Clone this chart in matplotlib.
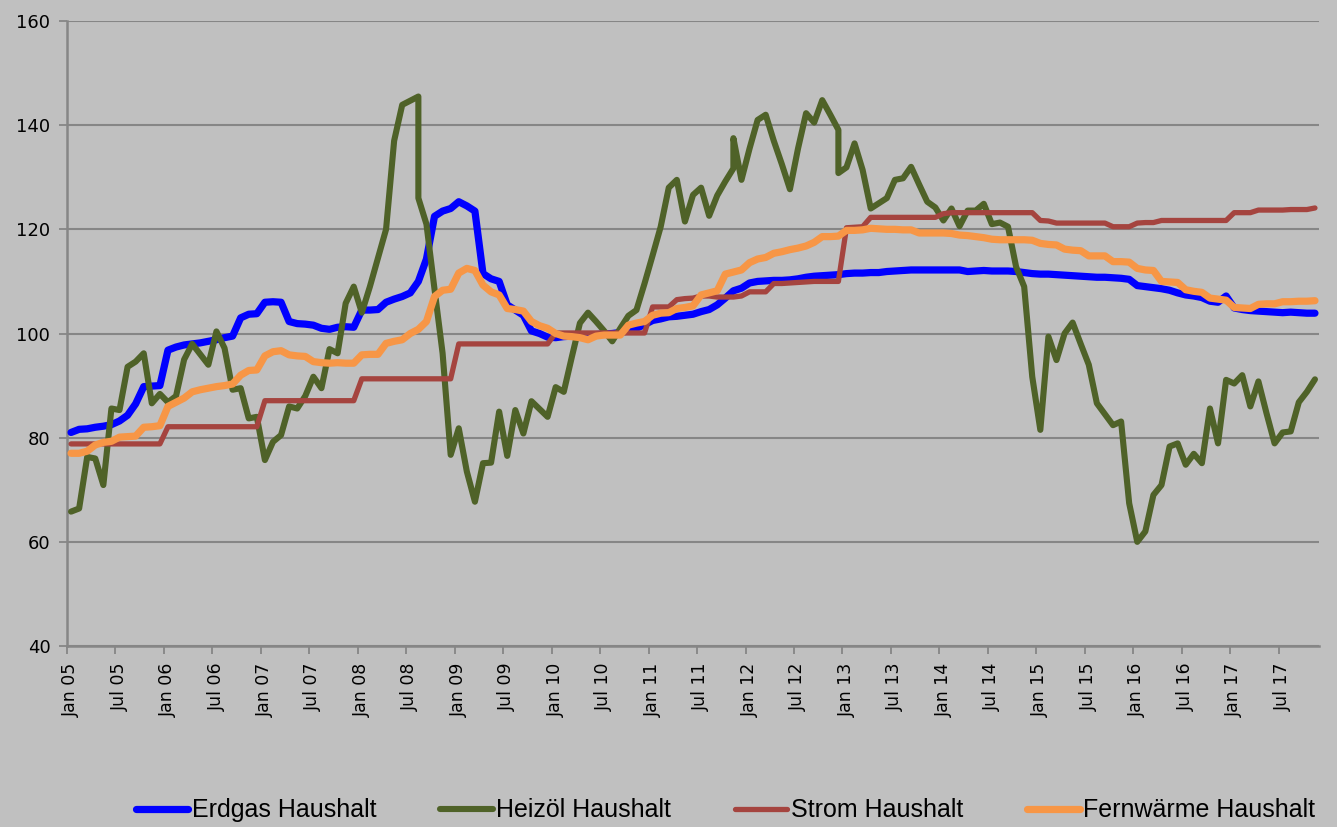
import matplotlib
matplotlib.use("Agg")
import matplotlib.pyplot as plt

# ---------------- data (monthly index, Jan 2005 = 0 ... Nov 2017 = 154) ----------------
tick_labels = ["Jan 05", "Jul 05", "Jan 06", "Jul 06", "Jan 07", "Jul 07", "Jan 08", "Jul 08",
               "Jan 09", "Jul 09", "Jan 10", "Jul 10", "Jan 11", "Jul 11", "Jan 12", "Jul 12",
               "Jan 13", "Jul 13", "Jan 14", "Jul 14", "Jan 15", "Jul 15", "Jan 16", "Jul 16",
               "Jan 17", "Jul 17"]
tick_months = [0, 6, 12, 18, 24, 30, 36, 42, 48, 54, 60, 66, 72, 78, 84, 90, 96, 102,
               108, 114, 120, 126, 132, 138, 144, 150]

erdgas = [
    81.0, 81.6, 81.7, 82.0, 82.2, 82.5, 83.2, 84.3, 86.5, 89.8, 89.9, 90.0,
    96.8, 97.4, 97.8, 98.0, 98.2, 98.5, 98.8, 99.2, 99.5, 103.0, 103.7, 103.8,
    106.0, 106.1, 106.0, 102.3, 101.9, 101.8, 101.6, 101.0, 100.8, 101.2, 101.3, 101.2,
    104.5, 104.5, 104.6, 106.0, 106.6, 107.1, 107.8, 110.0, 114.3, 122.5, 123.5, 124.0,
    125.3, 124.5, 123.5, 111.5, 110.5, 110.0, 105.5, 104.5, 103.5, 100.5, 100.0, 99.3,
    99.2, 99.4, 99.5, 99.6, 99.7, 99.8, 99.9, 100.0, 100.2, 100.5, 101.0, 101.7,
    102.5, 102.8, 103.2, 103.3, 103.5, 103.7, 104.2, 104.6, 105.5, 106.8, 108.2, 108.7,
    109.7, 110.0, 110.1, 110.2, 110.2, 110.3, 110.5, 110.8, 111.0, 111.1, 111.2, 111.3,
    111.5, 111.6, 111.6, 111.7, 111.7, 111.9, 112.0, 112.1, 112.2, 112.2, 112.2, 112.2,
    112.2, 112.2, 112.2, 111.9, 112.0, 112.1, 112.0, 112.0, 112.0, 111.9, 111.7, 111.5,
    111.4, 111.4, 111.3, 111.2, 111.1, 111.0, 110.9, 110.8, 110.8, 110.7, 110.6, 110.4,
    109.2, 109.0, 108.8, 108.6, 108.3, 107.8, 107.4, 107.2, 106.9, 106.2, 106.0, 107.2,
    104.9, 104.6, 104.4, 104.3, 104.2, 104.1, 104.0, 104.1, 104.0, 103.9, 103.9,
]

# Heizoel: some months carry two readings (drawn at the same month position)
heizoel_month = [
    0, 1, 2, 3, 4, 5, 6, 7, 8, 9, 10, 11,
    12, 13, 14, 15, 16, 17, 18, 19, 20, 21, 22, 23,
    24, 25, 26, 27, 28, 29, 30, 31, 32, 33, 34, 35,
    36, 37, 38, 39, 40, 41, 42, 43, 43, 44, 45, 46, 47,
    48, 49, 50, 51, 52, 53, 54, 55, 56, 57, 58, 59,
    60, 61, 62, 63, 64, 65, 66, 67, 68, 69, 70, 71,
    72, 73, 74, 75, 76, 77, 78, 79, 80, 81, 82, 82, 83,
    84, 85, 86, 87, 88, 89, 90, 91, 92, 93, 94, 95, 95,
    96, 97, 98, 99, 100, 101, 102, 103, 104, 105, 106, 107,
    108, 109, 110, 111, 112, 113, 114, 115, 116, 117, 118, 119,
    120, 121, 122, 123, 124, 125, 126, 127, 128, 129, 130, 131,
    132, 133, 134, 135, 136, 137, 138, 139, 140, 141, 142, 143,
    144, 145, 146, 147, 148, 149, 150, 151, 152, 153, 154,
]
heizoel = [
    65.8, 66.4, 76.3, 76.0, 70.9, 85.6, 85.3, 93.6, 94.6, 96.2, 86.6, 88.4,
    86.8, 88.0, 95.0, 98.0, 96.0, 94.0, 100.4, 97.2, 89.2, 89.5, 83.7, 84.0,
    75.7, 79.2, 80.5, 86.0, 85.6, 88.0, 91.7, 89.5, 97.0, 96.2, 105.8, 109.0,
    104.0, 109.0, 114.5, 120.0, 137.0, 143.9, 144.7, 145.5, 126.0, 121.0, 108.5, 96.2, 76.7,
    81.8, 73.5, 67.7, 75.1, 75.2, 85.0, 76.5, 85.3, 80.8, 87.0, 85.5, 84.0,
    89.7, 88.8, 95.5, 102.0, 104.0, 102.3, 100.5, 98.5, 101.0, 103.4, 104.5, 109.6,
    115.0, 120.5, 128.0, 129.5, 121.5, 126.6, 128.0, 122.6, 126.5, 129.2, 131.7, 137.5, 129.5,
    135.5, 141.0, 142.0, 137.0, 132.5, 127.7, 135.5, 142.3, 140.5, 144.8, 142.0, 139.1, 130.8,
    131.9, 136.5, 131.4, 124.0, 125.0, 126.0, 129.5, 129.8, 132.0, 128.6, 125.3, 124.2,
    121.7, 124.0, 120.6, 123.6, 123.6, 124.9, 121.0, 121.3, 120.5, 112.8, 109.0, 91.7,
    81.5, 99.4, 94.9, 100.0, 102.1, 98.0, 94.0, 86.6, 84.5, 82.4, 83.1, 67.4,
    60.0, 62.0, 69.0, 70.9, 78.3, 78.9, 74.8, 76.9, 75.1, 85.6, 78.9, 91.1,
    90.4, 92.0, 86.0, 90.8, 84.7, 78.9, 81.0, 81.2, 86.8, 88.8, 91.2,
]

strom = [
    78.8, 78.8, 78.8, 78.8, 78.8, 78.8, 78.8, 78.8, 78.8, 78.8, 78.8, 78.8,
    82.1, 82.1, 82.1, 82.1, 82.1, 82.1, 82.1, 82.1, 82.1, 82.1, 82.1, 82.1,
    87.1, 87.1, 87.1, 87.1, 87.1, 87.1, 87.1, 87.1, 87.1, 87.1, 87.1, 87.1,
    91.3, 91.3, 91.3, 91.3, 91.3, 91.3, 91.3, 91.3, 91.3, 91.3, 91.3, 91.3,
    98.0, 98.0, 98.0, 98.0, 98.0, 98.0, 98.0, 98.0, 98.0, 98.0, 98.0, 98.0,
    100.1, 100.1, 100.1, 100.1, 100.1, 100.1, 100.1, 100.1, 100.1, 100.1, 100.1, 100.1,
    105.1, 105.1, 105.1, 106.5, 106.7, 106.8, 107.2, 107.2, 107.0, 107.0, 107.0, 107.2,
    108.0, 108.0, 108.0, 109.6, 109.6, 109.7, 109.8, 109.9, 110.0, 110.0, 110.0, 110.0,
    120.3, 120.4, 120.5, 122.3, 122.3, 122.3, 122.3, 122.3, 122.3, 122.3, 122.3, 122.3,
    123.0, 123.2, 123.2, 123.2, 123.2, 123.2, 123.2, 123.2, 123.2, 123.2, 123.2, 123.2,
    121.7, 121.6, 121.2, 121.2, 121.2, 121.2, 121.2, 121.2, 121.2, 120.5, 120.5, 120.5,
    121.2, 121.3, 121.3, 121.7, 121.7, 121.7, 121.7, 121.7, 121.7, 121.7, 121.7, 121.7,
    123.2, 123.2, 123.2, 123.7, 123.7, 123.7, 123.7, 123.8, 123.8, 123.8, 124.1,
]

fernwaerme = [
    77.0, 77.0, 77.4, 78.6, 79.1, 79.3, 80.1, 80.2, 80.3, 82.0, 82.1, 82.3,
    86.0, 86.8, 87.6, 88.8, 89.2, 89.5, 89.8, 90.0, 90.3, 92.0, 92.9, 93.0,
    95.7, 96.5, 96.7, 95.9, 95.7, 95.6, 94.6, 94.4, 94.3, 94.4, 94.3, 94.3,
    95.9, 96.0, 96.0, 98.1, 98.5, 98.8, 100.0, 100.8, 102.3, 107.1, 108.3, 108.5,
    111.6, 112.5, 112.1, 109.3, 108.0, 107.4, 104.8, 104.6, 104.3, 102.3, 101.5, 101.0,
    100.0, 99.5, 99.4, 99.2, 98.8, 99.5, 99.7, 99.7, 99.7, 101.6, 102.0, 102.3,
    103.5, 103.9, 104.0, 104.8, 105.0, 105.3, 107.4, 107.8, 108.2, 111.4, 111.8, 112.2,
    113.6, 114.3, 114.6, 115.4, 115.7, 116.1, 116.4, 116.8, 117.5, 118.6, 118.6, 118.7,
    119.8, 119.8, 119.9, 120.2, 120.1, 120.0, 120.0, 119.9, 119.9, 119.3, 119.3, 119.3,
    119.3, 119.2, 118.9, 118.8, 118.6, 118.4, 118.1, 118.0, 118.0, 118.0, 118.0, 117.9,
    117.3, 117.1, 117.0, 116.2, 116.0, 115.9, 114.9, 114.9, 114.9, 113.8, 113.8, 113.7,
    112.5, 112.2, 112.1, 110.0, 109.9, 109.8, 108.4, 108.1, 107.9, 106.8, 106.6, 106.4,
    105.0, 104.9, 104.8, 105.6, 105.7, 105.7, 106.1, 106.1, 106.2, 106.2, 106.3,
]

series_names = ["Erdgas Haushalt", "Heizöl Haushalt", "Strom Haushalt", "Fernwärme Haushalt"]
y_ticks = [40, 60, 80, 100, 120, 140, 160]

# ---------------- figure ----------------
BG = "#C0C0C0"
GRID = "#868686"
fig = plt.figure(figsize=(13.37, 8.27), dpi=100, facecolor=BG)
ax = fig.add_axes([67 / 1337, 1 - 646 / 827, (1319 - 67) / 1337, (646 - 21) / 827])
ax.set_facecolor(BG)

months = list(range(len(erdgas)))
ax.plot(months, erdgas, color="#0000FF", lw=5.2, solid_joinstyle="round",
        solid_capstyle="round", label=series_names[0], zorder=3)
ax.plot(heizoel_month, heizoel, color="#4F6228", lw=4.4, solid_joinstyle="round",
        solid_capstyle="round", label=series_names[1], zorder=4)
ax.plot(months, strom, color="#A5443F", lw=3.8, solid_joinstyle="round",
        solid_capstyle="round", label=series_names[2], zorder=5)
ax.plot(months, fernwaerme, color="#F79646", lw=5.2, solid_joinstyle="round",
        solid_capstyle="round", label=series_names[3], zorder=6)

ax.set_xlim(-0.5, len(erdgas) - 0.5)
ax.set_ylim(40, 160)
ax.set_yticks(y_ticks)
ax.set_yticklabels([str(v) for v in y_ticks], fontsize=13, family="DejaVu Sans")
ax.set_xticks([m - 0.5 for m in tick_months])
ax.set_xticklabels([])
ax.set_xticks(tick_months, minor=True)
ax.set_xticklabels(tick_labels, minor=True, rotation=90, fontsize=12.5, family="DejaVu Sans")
ax.tick_params(axis="x", which="major", length=6, width=1.3, color=GRID, direction="out")
ax.tick_params(axis="x", which="minor", length=0, pad=12)
ax.tick_params(axis="y", length=6, width=1.3, color=GRID, direction="out", pad=6)

ax.grid(axis="y", color=GRID, lw=1.5, zorder=1)
ax.set_axisbelow(True)
for s in ["top", "right"]:
    ax.spines[s].set_visible(False)
for s in ["left", "bottom"]:
    ax.spines[s].set_color(GRID)
    ax.spines[s].set_linewidth(1.8)

leg = fig.legend(loc="center", bbox_to_anchor=(0.5426, 0.0200), ncol=4, frameon=False,
                 prop={"family": "Liberation Sans", "size": 18}, handlelength=2.1,
                 handletextpad=0.15, columnspacing=2.55)

fig.savefig("out.png", dpi=100, facecolor=BG)
